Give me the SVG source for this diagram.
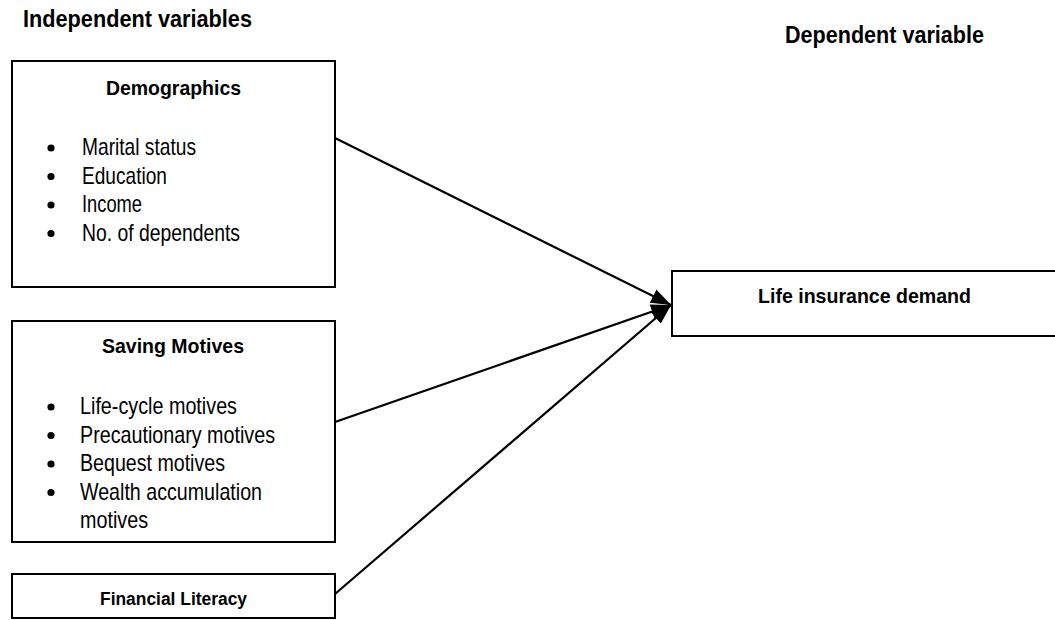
<svg xmlns="http://www.w3.org/2000/svg" width="1055" height="620" viewBox="0 0 1055 620">
<style>
.box{fill:#fff;stroke:#000;stroke-width:2}
.h{font-family:"Liberation Sans",Arial,sans-serif;font-weight:bold;fill:#000}
.t{font-family:"Liberation Sans",Arial,sans-serif;font-size:24px;fill:#000}
.conn{stroke:#000;stroke-width:2.2;fill:none}
</style>
<defs>
<marker id="arr" markerUnits="userSpaceOnUse" markerWidth="20" markerHeight="20" viewBox="0 0 16 12" refX="16" refY="6" orient="auto">
<path d="M0,0 L16,6 L0,12 Z" fill="#000"/>
</marker>
</defs>
<rect width="1055" height="620" fill="#fff"/>
<text class="h" x="23" y="27" font-size="23" textLength="229" lengthAdjust="spacingAndGlyphs">Independent variables</text>
<text class="h" x="785" y="43" font-size="23" textLength="199" lengthAdjust="spacingAndGlyphs">Dependent variable</text>
<g id="demographics">
<rect class="box" x="12" y="61" width="323" height="226"/>
<text class="h" x="106" y="95" font-size="21" textLength="135" lengthAdjust="spacingAndGlyphs">Demographics</text>
<circle cx="51" cy="148" r="3.6"/>
<circle cx="51" cy="176.5" r="3.6"/>
<circle cx="51" cy="205" r="3.6"/>
<circle cx="51" cy="233.5" r="3.6"/>
<text class="t" x="82" y="155" textLength="114" lengthAdjust="spacingAndGlyphs">Marital status</text>
<text class="t" x="82" y="183.5" textLength="85" lengthAdjust="spacingAndGlyphs">Education</text>
<text class="t" x="82" y="212" textLength="60" lengthAdjust="spacingAndGlyphs">Income</text>
<text class="t" x="82" y="240.5" textLength="158" lengthAdjust="spacingAndGlyphs">No. of dependents</text>
</g>
<g id="saving">
<rect class="box" x="12" y="321" width="323" height="221"/>
<text class="h" x="102" y="353" font-size="21" textLength="142" lengthAdjust="spacingAndGlyphs">Saving Motives</text>
<circle cx="51" cy="407" r="3.6"/>
<circle cx="51" cy="435.5" r="3.6"/>
<circle cx="51" cy="464" r="3.6"/>
<circle cx="51" cy="492.5" r="3.6"/>
<text class="t" x="80" y="414" textLength="157" lengthAdjust="spacingAndGlyphs">Life-cycle motives</text>
<text class="t" x="80" y="442.5" textLength="195" lengthAdjust="spacingAndGlyphs">Precautionary motives</text>
<text class="t" x="80" y="471" textLength="145" lengthAdjust="spacingAndGlyphs">Bequest motives</text>
<text class="t" x="80" y="499.5" textLength="182" lengthAdjust="spacingAndGlyphs">Wealth accumulation</text>
<text class="t" x="80" y="528" textLength="68" lengthAdjust="spacingAndGlyphs">motives</text>
</g>
<g id="literacy">
<rect class="box" x="12" y="574" width="323" height="44"/>
<text class="h" x="100" y="605" font-size="18" textLength="147" lengthAdjust="spacingAndGlyphs">Financial Literacy</text>
</g>
<g id="demand">
<rect class="box" x="672" y="271" width="400" height="65"/>
<text class="h" x="758" y="303" font-size="21" textLength="213" lengthAdjust="spacingAndGlyphs">Life insurance demand</text>
</g>
<g id="connectors">
<line class="conn" x1="335" y1="138" x2="671" y2="305" marker-end="url(#arr)"/>
<line class="conn" x1="335" y1="422" x2="671" y2="305" marker-end="url(#arr)"/>
<line class="conn" x1="335" y1="594" x2="671" y2="305" marker-end="url(#arr)"/>
</g>
</svg>
